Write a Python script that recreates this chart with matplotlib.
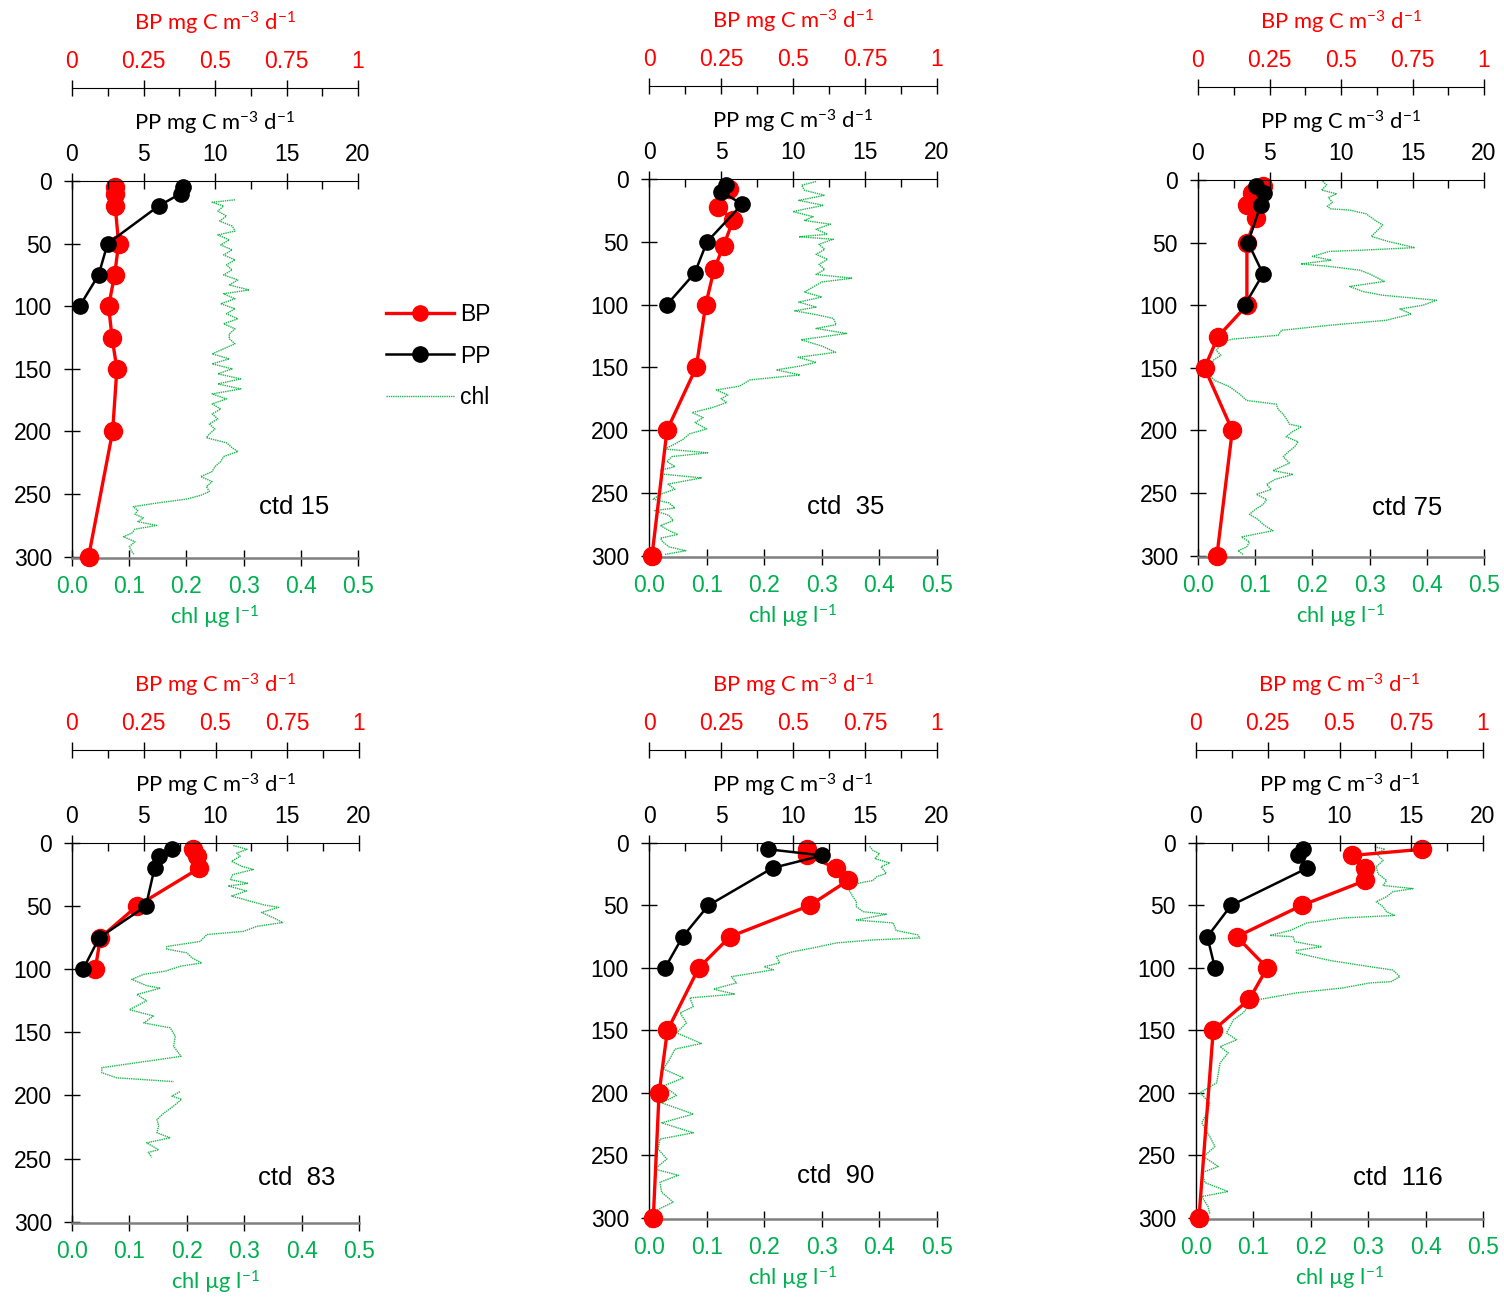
import numpy as np
import matplotlib
matplotlib.use("Agg")
import matplotlib.pyplot as plt
from matplotlib.lines import Line2D

plt.rcParams['font.family'] = ['Liberation Sans', 'DejaVu Sans']
plt.rcParams['mathtext.default'] = 'regular'

RED = '#FF0000'
GREEN = '#00B050'
CHL_C = '#1DB74E'
LBL_FONT = ['Lato', 'DejaVu Sans']

stations = ['ctd 15', 'ctd  35', 'ctd 75', 'ctd  83', 'ctd  90', 'ctd  116']

# bacterial production (BP), mg C m-3 d-1
bp_z1 = [5, 10, 20, 50, 75, 100, 125, 150, 200, 300]
bp_1 = [0.151, 0.151, 0.151, 0.163, 0.149, 0.128, 0.140, 0.157, 0.142, 0.058]
bp_z2 = [8, 22, 33, 53, 72, 100, 150, 200, 300]
bp_2 = [0.277, 0.240, 0.292, 0.259, 0.226, 0.197, 0.164, 0.0625, 0.0104]
bp_z3 = [5, 10, 20, 30, 50, 100, 125, 150, 200, 300]
bp_3 = [0.227, 0.19, 0.171, 0.202, 0.171, 0.171, 0.07, 0.023, 0.12, 0.066]
bp_z4 = [5, 10, 20, 50, 75, 100]
bp_4 = [0.42, 0.435, 0.443, 0.226, 0.099, 0.081]
bp_z5 = [5, 10, 20, 30, 50, 75, 100, 150, 200, 300]
bp_5 = [0.547, 0.549, 0.649, 0.691, 0.558, 0.281, 0.173, 0.064, 0.035, 0.015]
bp_z6 = [5, 10, 20, 30, 50, 75, 100, 125, 150, 300]
bp_6 = [0.789, 0.542, 0.588, 0.59, 0.368, 0.142, 0.248, 0.186, 0.06, 0.0104]

# primary production (PP), mg C m-3 d-1
pp_z = [5, 10, 20, 50, 75, 100]
pp_1 = [7.74, 7.60, 6.05, 2.49, 1.86, 0.53]
pp_2 = [5.32, 4.98, 6.48, 4.03, 3.17, 1.25]
pp_3 = [4.03, 4.59, 4.38, 3.50, 4.55, 3.26]
pp_4 = [6.96, 6.03, 5.75, 5.15, 1.90, 0.77]
pp_5 = [8.28, 12.02, 8.58, 4.12, 2.34, 1.11]
pp_6 = [7.47, 7.12, 7.77, 2.44, 0.79, 1.32]

# chlorophyll profiles, ug l-1
chl_z1 = [15, 17, 20, 24, 28, 32, 36, 40, 43, 47, 51, 55, 59, 63, 67, 71,
          75, 79, 83, 87, 90, 94, 98, 102, 106, 110, 114, 118, 122, 126, 130, 134,
          138, 142, 146, 150, 154, 158, 162, 166, 170, 174, 178, 182, 186, 190, 194, 198,
          202, 205, 209, 213, 216, 220, 224, 228, 232, 236, 240, 244, 248, 251, 254, 257,
          260, 263, 266, 269, 272, 275, 278, 281, 284, 288, 292, 296, 298]
chl_1 = [0.285, 0.245, 0.265, 0.255, 0.27, 0.258, 0.28, 0.285, 0.255, 0.275, 0.26, 0.28, 0.265, 0.285, 0.27, 0.28,
         0.265, 0.29, 0.275, 0.31, 0.265, 0.285, 0.26, 0.285, 0.27, 0.29, 0.265, 0.285, 0.275, 0.275, 0.285, 0.265,
         0.245, 0.275, 0.245, 0.28, 0.255, 0.295, 0.255, 0.295, 0.245, 0.27, 0.245, 0.26, 0.245, 0.255, 0.24, 0.25,
         0.24, 0.235, 0.27, 0.28, 0.29, 0.265, 0.26, 0.25, 0.245, 0.225, 0.245, 0.235, 0.24, 0.225, 0.2, 0.15,
         0.107, 0.115, 0.11, 0.125, 0.115, 0.148, 0.11, 0.105, 0.09, 0.11, 0.1, 0.105, 0.108]

chl_z2 = [2, 5, 9, 13, 17, 21, 24, 26, 30, 33,
          36, 40, 44, 46, 48, 52, 56, 60, 64, 68,
          72, 76, 79, 82, 86, 90, 94, 98, 102, 105,
          108, 111, 116, 119, 123, 128, 133, 138, 142, 146,
          149, 152, 156, 160, 165, 168, 172, 175, 178, 182,
          186, 190, 194, 199, 203, 207, 211, 215, 218, 221,
          225, 229, 232, 235, 238, 243, 247, 251, 255, 258,
          262, 264, 268, 272, 276, 280, 283, 286, 289, 293,
          296, 299]
chl_2 = [0.29, 0.265, 0.27, 0.305, 0.26, 0.303, 0.27, 0.25, 0.285, 0.27,
         0.315, 0.29, 0.31, 0.26, 0.32, 0.295, 0.305, 0.29, 0.31, 0.295,
         0.305, 0.29, 0.353, 0.3, 0.285, 0.27, 0.3, 0.26, 0.29, 0.253,
         0.29, 0.32, 0.325, 0.29, 0.343, 0.264, 0.3, 0.324, 0.259, 0.29,
         0.262, 0.221, 0.262, 0.175, 0.157, 0.117, 0.137, 0.125, 0.135, 0.11,
         0.075, 0.094, 0.08, 0.1, 0.07, 0.06, 0.045, 0.027, 0.102, 0.04,
         0.031, 0.045, 0.02, 0.024, 0.091, 0.033, 0.045, 0.02, 0.007, 0.035,
         0.045, 0.01, 0.035, 0.042, 0.02, 0.035, 0.05, 0.02, 0.024, 0.035,
         0.064, 0.027]

chl_z3 = [1, 4, 8, 11, 14, 18, 21, 23, 24, 27,
          32, 36, 41, 45, 49, 54, 56, 57, 61, 64,
          67, 69, 72, 75, 81, 85, 89, 92, 96, 100,
          103, 107, 112, 116, 120, 124, 127, 129, 136, 140,
          144, 149, 153, 160, 165, 171, 176, 179, 183, 187,
          191, 195, 197, 201, 205, 209, 213, 217, 221, 226,
          232, 235, 239, 243, 247, 251, 255, 259, 263, 267,
          271, 275, 280, 285, 289, 293, 296, 299]
chl_3 = [0.218, 0.225, 0.216, 0.242, 0.228, 0.235, 0.226, 0.232, 0.265, 0.294,
         0.309, 0.323, 0.312, 0.303, 0.332, 0.379, 0.288, 0.23, 0.2, 0.233,
         0.18, 0.23, 0.283, 0.3, 0.326, 0.265, 0.288, 0.323, 0.417, 0.393,
         0.353, 0.373, 0.329, 0.23, 0.146, 0.14, 0.061, 0.044, 0.032, 0.04,
         0.026, 0.026, 0.015, 0.029, 0.055, 0.073, 0.085, 0.137, 0.14, 0.149,
         0.155, 0.16, 0.181, 0.165, 0.154, 0.175, 0.169, 0.158, 0.149, 0.16,
         0.131, 0.166, 0.135, 0.12, 0.128, 0.102, 0.12, 0.114, 0.1, 0.09,
         0.105, 0.114, 0.131, 0.076, 0.09, 0.085, 0.07, 0.079]

chl_z4 = [2, 5, 8, 10.5, 14.5, 18.5, 21, 25, 29, 32,
          34, 38, 42, 46, 49, 51, 55, 59, 63, 66,
          70, 72.5, 78, 82, 84, 87, 91, 95, 97.6, 101.6,
          104, 108, 113, 115, 120, 125, 132, 137, 142.5, 146.4,
          153, 161, 169, 174, 178, 182, 186, 189, 193, 197,
          200.5, 203, 208.4, 214, 219, 224, 229.5, 233.5, 237.5, 243,
          245, 249]
chl_4 = [0.281, 0.305, 0.287, 0.293, 0.278, 0.296, 0.316, 0.28, 0.276, 0.307,
         0.272, 0.304, 0.278, 0.31, 0.334, 0.36, 0.33, 0.35, 0.367, 0.322,
         0.299, 0.235, 0.223, 0.165, 0.165, 0.2, 0.209, 0.226, 0.189, 0.162,
         0.125, 0.104, 0.13, 0.154, 0.113, 0.13, 0.1, 0.142, 0.125, 0.171,
         0.18, 0.177, 0.19, 0.113, 0.052, 0.052, 0.078, 0.177, np.nan, 0.188,
         0.174, 0.191, 0.177, 0.16, 0.148, 0.151, 0.148, 0.171, 0.13, 0.151,
         0.133, 0.139]

chl_z5 = [2.7, 6, 8.5, 12.5, 16, 19, 24.4, 27, 30, 32,
          35, 39, 43, 47, 51, 55, 57, 61.7, 64, 70,
          73.6, 76, 77.6, 80, 84, 87, 91, 96, 99, 101.5,
          107, 112, 117, 121, 124, 131, 136, 144, 152, 160.5,
          165, 173, 181, 188, 194.5, 202, 208, 217, 224, 232,
          237, 245, 253, 261, 266, 271.6, 279.6, 287.5, 294, 298]
chl_5 = [0.383, 0.389, 0.4, 0.392, 0.418, 0.403, 0.412, 0.395, 0.389, 0.366,
         0.343, 0.349, 0.354, 0.36, 0.36, 0.372, 0.412, 0.36, 0.424, 0.429,
         0.467, 0.47, 0.389, 0.325, 0.285, 0.25, 0.221, 0.227, 0.2, 0.216,
         0.143, 0.152, 0.112, 0.149, 0.071, 0.077, 0.054, 0.065, 0.048, 0.091,
         0.045, 0.036, 0.025, 0.06, 0.025, 0.048, 0.022, 0.077, 0.022, 0.077,
         0.019, 0.016, 0.031, 0.01, 0.051, 0.019, 0.022, 0.042, 0.013, 0.008]

chl_z6 = [3, 5, 8.5, 14, 19, 24.5, 30, 34, 36.5, 39,
          43, 47, 51, 55, 58, 60, 64, 70, 74, 75,
          79, 83, 86, 88, 94, 99, 101.7, 107, 111, 112,
          116, 120, 125.6, 131, 136, 141.6, 147, 152, 157.6, 163,
          168, 176, 184, 192, 200, 208, 216, 224, 235, 243,
          251, 259, 264, 272, 279, 283, 291, 297]
chl_6 = [0.311, 0.329, 0.314, 0.326, 0.314, 0.317, 0.332, 0.326, 0.378, 0.343,
         0.332, 0.314, 0.326, 0.332, 0.346, 0.256, 0.193, 0.164, 0.129, 0.169,
         0.172, 0.219, 0.175, 0.175, 0.233, 0.303, 0.343, 0.355, 0.34, 0.303,
         0.256, 0.175, 0.106, 0.091, 0.082, 0.065, 0.059, 0.053, 0.071, 0.042,
         0.056, 0.042, 0.039, 0.036, 0.007, 0.024, 0.019, 0.01, 0.024, 0.033,
         0.013, 0.039, 0.01, 0.016, 0.056, 0.01, 0.021, 0.024]

bp_z = [bp_z1, bp_z2, bp_z3, bp_z4, bp_z5, bp_z6]
bp = [bp_1, bp_2, bp_3, bp_4, bp_5, bp_6]
pp = [pp_1, pp_2, pp_3, pp_4, pp_5, pp_6]
chl_z = [chl_z1, chl_z2, chl_z3, chl_z4, chl_z5, chl_z6]
chl = [chl_1, chl_2, chl_3, chl_4, chl_5, chl_6]

W, H = 1504, 1297
fig = plt.figure(figsize=(W / 100, H / 100), dpi=100)

# panel boxes in pixels: left, top, right, bottom
boxes = [(72, 181, 358, 558), (649, 179, 937, 557), (1198, 180, 1484, 557),
         (72, 843, 359, 1223), (649, 843, 937, 1219), (1196, 843, 1483, 1219)]
# station label anchor (right edge, centre) in axes fraction
lab_xy = [(0.899, 0.135), (0.816, 0.132), (0.853, 0.131),
          (0.916, 0.118), (0.781, 0.114), (0.861, 0.109)]

TICK_FS = 16.5
LAB_FS = 15.8

for i in range(6):
    l, t, r, b = boxes[i]
    ax = fig.add_axes([l / W, 1 - b / H, (r - l) / W, (b - t) / H])
    ax_bp = ax.twiny()
    ax_pp = ax.twiny()

    # chlorophyll (bottom axis)
    ax.plot(chl[i], chl_z[i], color=CHL_C, lw=1.0, ls=(0, (1, 0.6)))
    ax.set_xlim(0, 0.5)
    ax.set_ylim(301, 0)
    ax.set_xticks(np.arange(0, 0.51, 0.1))
    ax.set_xticklabels(['%.1f' % v for v in np.arange(0, 0.51, 0.1)])
    ax.set_yticks(range(0, 301, 50))
    ax.tick_params(axis='both', direction='inout', length=11, width=1, labelsize=TICK_FS)
    ax.tick_params(axis='x', labelcolor=GREEN, pad=7)
    ax.tick_params(axis='y', pad=9)
    ax.set_xlabel(r'chl µg l$^{-1}$', color=GREEN, fontsize=LAB_FS, family=LBL_FONT, labelpad=4)
    ax.spines['right'].set_visible(False)
    ax.spines['top'].set_visible(False)
    ax.spines['bottom'].set_color('#7F7F7F')
    ax.spines['bottom'].set_linewidth(1.8)
    ax.spines['left'].set_linewidth(1.0)

    # BP (outer top axis)
    ax_bp.plot(bp[i], bp_z[i], color=RED, lw=2.4, marker='o', ms=13, clip_on=False)
    ax_bp.set_xlim(0, 1)
    ax_bp.set_xticks([0, 0.25, 0.5, 0.75, 1])
    ax_bp.set_xticklabels(['0', '0.25', '0.5', '0.75', '1'])
    ax_bp.set_xticks(np.arange(0.125, 1, 0.25), minor=True)
    ax_bp.spines['top'].set_position(('outward', 67))
    for s in ['left', 'right', 'bottom']:
        ax_bp.spines[s].set_visible(False)
    ax_bp.tick_params(axis='x', which='major', direction='inout', length=11, width=1,
                      labelsize=TICK_FS, labelcolor=RED, pad=5)
    ax_bp.tick_params(axis='x', which='minor', direction='in', length=6, width=1)
    ax_bp.set_xlabel(r'BP mg C m$^{-3}$ d$^{-1}$', color=RED, fontsize=LAB_FS,
                     family=LBL_FONT, labelpad=14)

    # PP (inner top axis)
    ax_pp.plot(pp[i], pp_z, color='black', lw=1.8, marker='o', ms=11, clip_on=False)
    ax_pp.set_xlim(0, 20)
    ax_pp.set_xticks(range(0, 21, 5))
    ax_pp.set_xticks(np.arange(2.5, 20, 5), minor=True)
    for s in ['left', 'right', 'bottom']:
        ax_pp.spines[s].set_visible(False)
    ax_pp.tick_params(axis='x', which='major', direction='inout', length=11, width=1,
                      labelsize=TICK_FS, pad=5)
    ax_pp.tick_params(axis='x', which='minor', direction='in', length=6, width=1)
    ax_pp.set_xlabel(r'PP mg C m$^{-3}$ d$^{-1}$', fontsize=LAB_FS, family=LBL_FONT, labelpad=9)

    lx, ly = lab_xy[i]
    ax.text(lx, ly, stations[i], transform=ax.transAxes, ha='right', va='center', fontsize=18.5)

handles = [Line2D([], [], color=RED, lw=2.4, marker='o', ms=11),
           Line2D([], [], color='black', lw=1.8, marker='o', ms=11),
           Line2D([], [], color=CHL_C, lw=1.0, ls=(0, (1, 0.6)))]
fig.legend(handles, ['BP', 'PP', 'chl'], loc='center left', bbox_to_anchor=(386 / W, 1 - 356 / H),
           frameon=False, fontsize=16.5, handlelength=2.95, handletextpad=0.3,
           labelspacing=0.8, borderpad=0, borderaxespad=0)

fig.savefig('out.png', dpi=100)
